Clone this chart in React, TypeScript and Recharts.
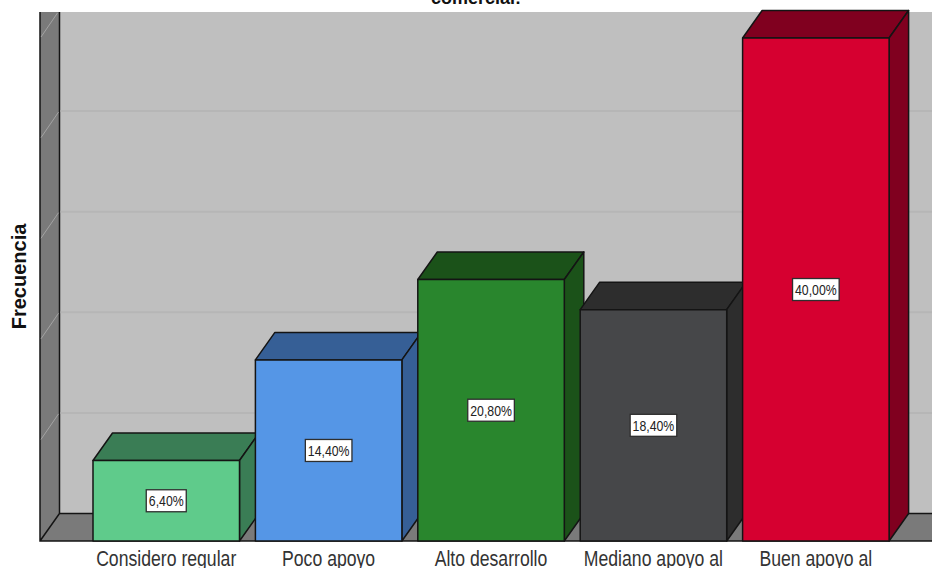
import { Bar, BarChart, CartesianGrid, LabelList, XAxis, YAxis } from "recharts";

const categories = ["Considero regular", "Poco apoyo", "Alto desarrollo", "Mediano apoyo al", "Buen apoyo al"];
const percentages = [6.4, 14.4, 20.8, 18.4, 40];
const frontColors = ["#5fcb8b", "#5596e6", "#29862d", "#464749", "#d60030"];
const sideColors = ["#3a7d55", "#365f96", "#1b5219", "#2d2d2d", "#80001f"];
const gridValues = [8, 16, 24, 32, 40];

const chartData = categories.map((name, i) => ({
  name,
  value: percentages[i],
  front: frontColors[i],
  side: sideColors[i],
}));

const WIDTH = 932;
const HEIGHT = 568;
const PLOT_TOP = 12;
const DEPTH_X = 19.5;
const DEPTH_Y = 27.5;
const EDGE = "#141414";
const SANS = "'Liberation Sans', Arial, sans-serif";
// no condensed face is installed, so the regular one gets squeezed
const NARROW = 0.82;

const formatPercent = (value: number) => `${value.toFixed(2).replace(".", ",")}%`;

// back wall, side wall and floor, hung off the zero line of the scale
function Walls({ x1, x2, y1 }: any) {
  const backX = x1 + DEPTH_X;
  const backY = y1 - DEPTH_Y;
  return (
    <g>
      <rect x={backX} y={PLOT_TOP} width={x2 - backX} height={backY - PLOT_TOP} fill="#bfbfbf" />
      <polygon
        points={`${x1},${y1} ${backX},${backY} ${backX},${PLOT_TOP} ${x1},${PLOT_TOP}`}
        fill="#7a7a7a"
      />
      <polygon points={`${x1},${y1} ${backX},${backY} ${x2},${backY} ${x2},${y1}`} fill="#7a7a7a" />
      <path
        d={`M${x1},${PLOT_TOP} V${y1} H${x2} M${x1},${y1} L${backX},${backY} V${PLOT_TOP} M${backX},${backY} H${x2}`}
        fill="none"
        stroke={EDGE}
        strokeWidth={1.5}
      />
    </g>
  );
}

// grid lines run along the back wall and fold down the side wall
function WallGridLine({ x1, x2, y1 }: any) {
  const t = Math.min(1, (y1 - PLOT_TOP) / DEPTH_Y);
  const backY = y1 - DEPTH_Y;
  return (
    <g>
      <line
        x1={x1 + 1}
        y1={y1 - 1}
        x2={x1 + DEPTH_X * t - 1}
        y2={y1 - DEPTH_Y * t + 1}
        stroke="#a3a3a3"
        strokeWidth={1}
      />
      {backY > PLOT_TOP && (
        <line x1={x1 + DEPTH_X + 1} y1={backY} x2={x2} y2={backY} stroke="#b6b6b6" strokeWidth={2} />
      )}
    </g>
  );
}

function Box3D({ x, y, width, height, payload }: any) {
  const right = x + width;
  const bottom = y + height;
  return (
    <g stroke={EDGE} strokeWidth={1.5} strokeLinejoin="round">
      <polygon
        points={`${x},${y} ${x + DEPTH_X},${y - DEPTH_Y} ${right + DEPTH_X},${y - DEPTH_Y} ${right},${y}`}
        fill={payload.side}
      />
      <polygon
        points={`${right},${y} ${right + DEPTH_X},${y - DEPTH_Y} ${right + DEPTH_X},${bottom - DEPTH_Y} ${right},${bottom}`}
        fill={payload.side}
      />
      <rect x={x} y={y} width={width} height={height} fill={payload.front} />
    </g>
  );
}

function ValueTag({ x, y, width, height, value }: any) {
  const text = formatPercent(Number(value));
  const boxWidth = text.length * 6.6 + 7;
  const cx = x + width / 2;
  const cy = y + height / 2;
  return (
    <g>
      <rect
        x={cx - boxWidth / 2}
        y={cy - 11}
        width={boxWidth}
        height={22}
        fill="#ffffff"
        stroke="#2e2e2e"
        strokeWidth={1.3}
      />
      <text
        transform={`translate(${cx} ${cy + 5.5}) scale(${NARROW} 1)`}
        textAnchor="middle"
        fontFamily={SANS}
        fontSize={15}
        fill="#222222"
      >
        {text}
      </text>
    </g>
  );
}

function CategoryTick({ x, y, payload }: any) {
  return (
    <text
      transform={`translate(${x} ${y + 17}) scale(${NARROW} 1)`}
      textAnchor="middle"
      fontFamily={SANS}
      fontSize={21.5}
      fill="#333333"
    >
      {payload.value}
    </text>
  );
}

export default function App() {
  return (
    <div style={{ position: "absolute", left: 0, top: 0, background: "#ffffff" }}>
      <BarChart
        width={WIDTH}
        height={HEIGHT}
        data={chartData}
        margin={{ top: PLOT_TOP, right: 0, bottom: 0, left: 0 }}
      >
        <CartesianGrid horizontalValues={[0]} vertical={false} horizontal={(p: any) => <Walls {...p} />} />
        <CartesianGrid
          horizontalValues={gridValues}
          vertical={false}
          horizontal={(p: any) => <WallGridLine {...p} />}
        />
        <XAxis
          dataKey="name"
          height={27}
          interval={0}
          axisLine={false}
          tickLine={false}
          padding={{ left: 45, right: 35 }}
          tick={<CategoryTick />}
        />
        <YAxis
          width={40}
          domain={[0, 42.07]}
          ticks={[0, ...gridValues]}
          interval={0}
          tick={() => <g />}
          axisLine={false}
          tickLine={false}
        />
        <Bar dataKey="value" barSize={146.5} isAnimationActive={false} shape={<Box3D />}>
          <LabelList dataKey="value" content={<ValueTag />} />
        </Bar>
        <text x={476} y={4} textAnchor="middle" fontFamily={SANS} fontWeight="bold" fontSize={18} fill="#111111">
          comercial:
        </text>
        <text
          transform="translate(25.5 276.5) rotate(-90)"
          textAnchor="middle"
          fontFamily={SANS}
          fontWeight="bold"
          fontSize={20}
          fill="#111111"
        >
          Frecuencia
        </text>
      </BarChart>
    </div>
  );
}
